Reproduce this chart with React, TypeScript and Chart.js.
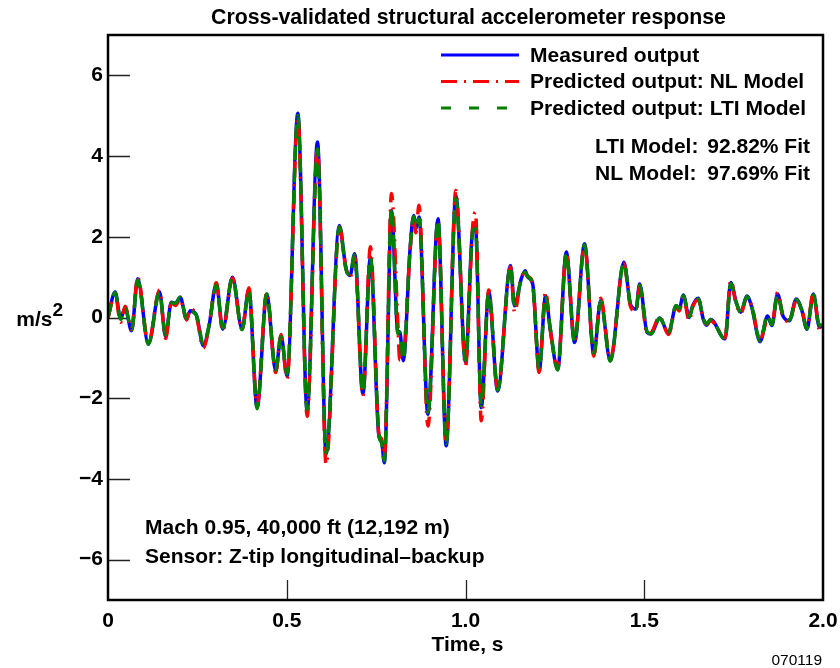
import React, { useEffect, useRef } from 'react';
import { Chart, registerables } from 'chart.js';

Chart.register(...registerables);

// ---------- data ----------
const timeS = [
  0.000, 0.020, 0.035, 0.048, 0.066, 0.083, 0.113, 0.144, 0.161, 0.177,
  0.189, 0.202, 0.220, 0.230, 0.247, 0.267, 0.282, 0.303, 0.321, 0.348,
  0.375, 0.394, 0.417, 0.444, 0.469, 0.484, 0.501, 0.531, 0.557, 0.586,
  0.610, 0.647, 0.666, 0.677, 0.690, 0.713, 0.734, 0.758, 0.765, 0.773,
  0.793, 0.811, 0.816, 0.826, 0.845, 0.855, 0.861, 0.870, 0.895, 0.923,
  0.946, 0.973, 1.000, 1.020, 1.028, 1.044, 1.065, 1.090, 1.126, 1.137,
  1.156, 1.167, 1.174, 1.188, 1.206, 1.224, 1.237, 1.258, 1.282, 1.305,
  1.333, 1.359, 1.378, 1.405, 1.443, 1.462, 1.477, 1.487, 1.508, 1.519,
  1.543, 1.568, 1.589, 1.598, 1.609, 1.626, 1.635, 1.651, 1.665, 1.674,
  1.686, 1.726, 1.742, 1.757, 1.770, 1.787, 1.801, 1.824, 1.845, 1.857,
  1.873, 1.888, 1.906, 1.925, 1.941, 1.955, 1.973, 1.990, 2.000,
];

const measuredOutput = [
  0.00, 0.63, -0.02, 0.23, -0.33, 0.96, -0.66, 0.64, -0.47, 0.38,
  0.34, 0.50, -0.04, 0.17, 0.06, -0.70, -0.24, 0.83, -0.29, 1.00,
  -0.29, 0.69, -2.23, 0.58, -1.32, -0.45, -1.45, 5.06, -2.31, 4.35,
  -3.39, 2.28, 1.20, 1.04, 1.58, -1.90, 1.50, -2.95, -3.05, -3.60,
  2.65, -0.37, -0.35, -1.07, 1.70, 2.53, 2.20, 2.49, -2.40, 2.45,
  -3.18, 3.03, -1.11, 2.16, 2.24, -2.23, 0.63, -1.82, 1.29, 0.29,
  0.96, 1.16, 1.00, 0.83, -1.32, 0.54, -0.29, -1.28, 1.62, -0.62,
  1.83, -0.91, 0.42, -1.07, 1.37, 0.31, 0.21, 0.83, -0.37, -0.41,
  -0.01, -0.39, 0.29, 0.21, 0.56, 0.00, 0.28, 0.48, -0.04, -0.19,
  -0.05, -0.53, 0.87, 0.38, 0.13, 0.53, 0.25, -0.60, 0.04, -0.20,
  0.58, 0.04, -0.08, 0.46, 0.17, -0.29, 0.58, -0.24, -0.19,
];

const nlModelOutput = [
  0.00, 0.60, -0.12, 0.28, -0.30, 1.00, -0.64, 0.68, -0.52, 0.36,
  0.30, 0.46, -0.06, 0.22, 0.04, -0.76, -0.26, 0.86, -0.34, 0.98,
  -0.30, 0.74, -2.18, 0.62, -1.36, -0.42, -1.52, 4.95, -2.45, 4.22,
  -3.64, 2.25, 1.22, 0.98, 1.50, -1.95, 1.75, -2.90, -3.00, -3.48,
  3.07, -0.20, -1.05, -0.95, 1.66, 2.45, 2.10, 2.78, -2.69, 2.40,
  -3.10, 3.15, -1.20, 2.25, 2.61, -2.56, 0.68, -1.78, 1.25, 0.13,
  0.98, 1.10, 1.02, 0.85, -1.36, 0.64, -0.30, -1.25, 1.60, -0.58,
  1.80, -0.96, 0.48, -1.04, 1.33, 0.26, 0.16, 0.78, -0.40, -0.38,
  0.02, -0.42, 0.26, 0.16, 0.52, -0.08, 0.25, 0.44, -0.02, -0.17,
  -0.08, -0.50, 0.92, 0.34, 0.10, 0.50, 0.28, -0.56, -0.06, -0.16,
  0.62, 0.02, -0.10, 0.42, 0.19, -0.26, 0.62, -0.30, -0.25,
];

const ltiModelOutput = [
  0.00, 0.62, -0.05, 0.22, -0.30, 0.92, -0.66, 0.62, -0.42, 0.36,
  0.36, 0.50, -0.02, 0.14, 0.06, -0.66, -0.22, 0.80, -0.26, 0.98,
  -0.30, 0.66, -2.26, 0.58, -1.30, -0.48, -1.40, 5.00, -2.28, 4.18,
  -3.35, 2.24, 1.18, 1.06, 1.55, -1.85, 1.48, -2.92, -3.10, -3.55,
  2.72, -0.40, -0.38, -1.05, 1.70, 2.50, 2.25, 2.45, -2.35, 2.42,
  -3.12, 2.95, -1.05, 2.12, 2.20, -2.18, 0.60, -1.80, 1.26, 0.32,
  0.95, 1.12, 1.02, 0.80, -1.28, 0.52, -0.26, -1.30, 1.58, -0.60,
  1.80, -0.88, 0.40, -1.08, 1.35, 0.33, 0.22, 0.80, -0.35, -0.40,
  -0.02, -0.36, 0.30, 0.22, 0.54, 0.02, 0.27, 0.46, -0.02, -0.16,
  -0.05, -0.54, 0.84, 0.38, 0.12, 0.52, 0.25, -0.58, 0.06, -0.18,
  0.56, 0.06, -0.06, 0.44, 0.18, -0.28, 0.56, -0.20, -0.15,
];

const yTickValues = [-6, -4, -2, 0, 2, 4, 6];
const xTickValues = [0, 0.5, 1.0, 1.5, 2.0];
const xTickLabels = ['0', '0.5', '1.0', '1.5', '2.0'];

const chartTitle = 'Cross-validated structural accelerometer response';
const legendLabels = ['Measured output', 'Predicted output: NL Model', 'Predicted output: LTI Model'];
const fitLabels = ['LTI Model:', 'NL Model:'];
const fitValues = ['92.82% Fit', '97.69% Fit'];
const noteLines = ['Mach 0.95, 40,000 ft (12,192 m)', 'Sensor: Z-tip longitudinal\u2013backup'];
const xAxisTitle = 'Time, s';
const yAxisUnit = 'm/s';
const yAxisSup = '2';
const figureId = '070119';

// ---------- styles ----------
const FONT = '"Liberation Sans", Arial, Helvetica, sans-serif';
const BLUE = '#0000ff';
const RED = '#ff0000';
const GREEN = '#008000';
const DASH_NL = [16, 7, 2, 7];
const DASH_LTI = [14, 8];
const LINE_W = 3.5;

const pts = (ys: number[]) => timeS.map((t, i) => ({ x: t, y: ys[i] }));

const decorPlugin = {
  id: 'decor',
  beforeDatasetsDraw(chart: any) {
    const { ctx, chartArea: a, scales } = chart;
    ctx.save();
    ctx.strokeStyle = '#222';
    ctx.lineWidth = 1.3;
    ctx.beginPath();
    yTickValues.forEach((v) => {
      const y = Math.round(scales.y.getPixelForValue(v)) + 0.5;
      ctx.moveTo(a.left, y);
      ctx.lineTo(a.left + 22, y);
    });
    xTickValues.slice(1, -1).forEach((v) => {
      const x = Math.round(scales.x.getPixelForValue(v)) + 0.5;
      ctx.moveTo(x, a.bottom);
      ctx.lineTo(x, a.bottom - 20);
    });
    ctx.stroke();
    ctx.restore();
  },
  afterDraw(chart: any) {
    const { ctx, chartArea: a } = chart;
    ctx.save();
    // frame
    ctx.strokeStyle = '#000';
    ctx.lineWidth = 2.5;
    ctx.strokeRect(a.left, a.top, a.right - a.left, a.bottom - a.top);

    ctx.fillStyle = '#000';
    ctx.textBaseline = 'middle';

    // title
    ctx.font = `bold 21.3px ${FONT}`;
    ctx.textAlign = 'center';
    ctx.fillText(chartTitle, (a.left + a.right) / 2 + 3, 18);

    // legend
    const styles = [
      { color: BLUE, dash: [] as number[] },
      { color: RED, dash: DASH_NL },
      { color: GREEN, dash: [10, 18] },
    ];
    ctx.font = `bold 21px ${FONT}`;
    legendLabels.forEach((lbl, i) => {
      const y = a.top + 20 + i * 26.5;
      ctx.save();
      ctx.strokeStyle = styles[i].color;
      ctx.lineWidth = 3;
      ctx.setLineDash(styles[i].dash);
      ctx.beginPath();
      ctx.moveTo(a.right - 382, y);
      ctx.lineTo(a.right - 304, y);
      ctx.stroke();
      ctx.restore();
      ctx.textAlign = 'left';
      ctx.fillText(lbl, a.right - 293, y + 1);
    });

    // fit text
    fitLabels.forEach((lbl, i) => {
      const y = a.top + 112 + i * 27.5;
      ctx.textAlign = 'left';
      ctx.fillText(lbl, a.right - 228, y);
      ctx.textAlign = 'right';
      ctx.fillText(fitValues[i], a.right - 13, y);
    });

    // notes
    ctx.textAlign = 'left';
    noteLines.forEach((n, i) => {
      ctx.fillText(n, a.left + 37, a.bottom - 72 + i * 29.5);
    });

    // x axis title
    ctx.textAlign = 'center';
    ctx.fillText(xAxisTitle, (a.left + a.right) / 2 + 2, 645);

    // y axis unit with superscript
    ctx.textAlign = 'right';
    ctx.font = `bold 19px ${FONT}`;
    ctx.fillText(yAxisSup, 63, 311);
    const supW = ctx.measureText(yAxisSup).width;
    ctx.font = `bold 21px ${FONT}`;
    ctx.fillText(yAxisUnit, 63 - supW, 320);

    // figure id
    ctx.font = `15.5px ${FONT}`;
    ctx.textAlign = 'right';
    ctx.fillText(figureId, 822, 661);
    ctx.restore();
  },
};

export default function App() {
  const ref = useRef<HTMLCanvasElement | null>(null);

  useEffect(() => {
    if (!ref.current) return;
    const chart = new Chart(ref.current, {
      type: 'line',
      data: {
        datasets: [
          {
            label: legendLabels[2],
            data: pts(ltiModelOutput),
            borderColor: GREEN,
            borderWidth: LINE_W,
            borderDash: DASH_LTI,
            pointRadius: 0,
            cubicInterpolationMode: 'monotone',
            fill: false,
          },
          {
            label: legendLabels[1],
            data: pts(nlModelOutput),
            borderColor: RED,
            borderWidth: LINE_W,
            borderDash: DASH_NL,
            pointRadius: 0,
            cubicInterpolationMode: 'monotone',
            fill: false,
          },
          {
            label: legendLabels[0],
            data: pts(measuredOutput),
            borderColor: BLUE,
            borderWidth: LINE_W,
            pointRadius: 0,
            cubicInterpolationMode: 'monotone',
            fill: false,
          },
        ],
      },
      options: {
        animation: false,
        responsive: false,
        devicePixelRatio: 1,
        layout: { padding: { top: 35, right: 17, left: 0, bottom: 0 } },
        plugins: {
          legend: { display: false },
          title: { display: false },
          tooltip: { enabled: false },
        },
        events: [],
        scales: {
          x: {
            type: 'linear',
            min: 0,
            max: 2,
            border: { display: false },
            grid: { display: false, drawTicks: false },
            afterBuildTicks: (s: any) => {
              s.ticks = xTickValues.map((v) => ({ value: v }));
            },
            afterFit: (s: any) => {
              s.height = 68;
              s.paddingLeft = 0;
              s.paddingRight = 0;
            },
            ticks: {
              autoSkip: false,
              maxRotation: 0,
              padding: 9,
              color: '#000',
              font: { family: FONT, size: 21, weight: 'bold' },
              callback: (_v: any, i: number) => xTickLabels[i],
            },
          },
          y: {
            type: 'linear',
            min: -7,
            max: 7,
            border: { display: false },
            grid: { display: false, drawTicks: false },
            afterBuildTicks: (s: any) => {
              s.ticks = yTickValues.map((v) => ({ value: v }));
            },
            afterFit: (s: any) => {
              s.width = 108;
              s.paddingTop = 0;
              s.paddingBottom = 0;
            },
            ticks: {
              autoSkip: false,
              padding: 5,
              color: '#000',
              font: { family: FONT, size: 21, weight: 'bold' },
              callback: (v: any) => (v < 0 ? '\u2212' + Math.abs(v) : String(v)),
            },
          },
        },
      },
      plugins: [decorPlugin],
    } as any);
    return () => chart.destroy();
  }, []);

  return (
    <div style={{ position: 'fixed', left: 0, top: 0, width: 840, height: 668, background: '#fff' }}>
      <canvas ref={ref} width={840} height={668} style={{ display: 'block', width: 840, height: 668 }} />
    </div>
  );
}
